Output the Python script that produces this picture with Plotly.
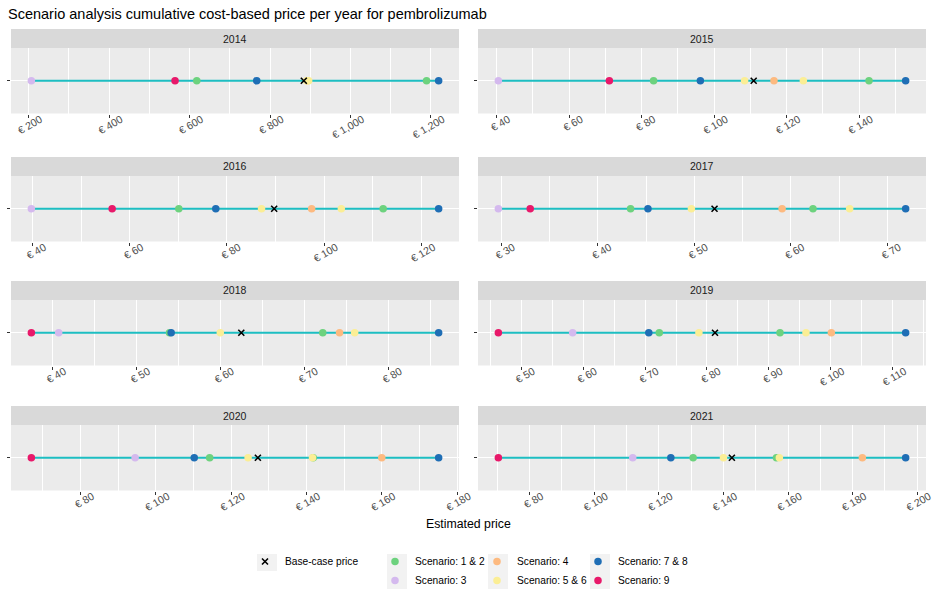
import plotly.graph_objects as go

# ---- data -------------------------------------------------------------
years = ["2014", "2015", "2016", "2017", "2018", "2019", "2020", "2021"]
tick_steps = [200, 20, 20, 10, 10, 10, 20, 20]

base_case = [884, 110.9, 89.7, 52.1, 62.5, 81.3, 127.1, 142.6]

scen_1 = [618, 83.3, 70.1, 43.4, 53.95, 72.3, 114.3, 130.6]
scen_2 = [1189, 142.7, 112.1, 62.3, 72.2, 91.8, 141.8, 156.4]
scen_3 = [207, 40.5, 39.8, 29.7, 40.75, 58.3, 94.5, 111.9]
scen_4 = [893, 116.5, 97.4, 59.1, 74.2, 100.1, 160.0, 183.0]
scen_5 = [891, 108.4, 87.1, 49.7, 60.0, 78.7, 124.5, 140.0]
scen_6 = [896, 124.6, 103.5, 66.1, 76.0, 96.0, 141.6, 157.3]
scen_7 = [767, 96.2, 77.7, 45.2, 54.15, 70.6, 110.2, 123.7]
scen_8 = [1219, 152.8, 123.5, 71.9, 86.0, 112.1, 175.1, 196.4]
scen_9 = [564, 71.1, 56.4, 33.0, 37.5, 46.3, 66.95, 70.3]

# scenario groups in drawing order: (label, colour, series, legend, rank)
groups = [
    ("Scenario: 1 & 2", "#6DD27E", [scen_1, scen_2], "legend2", 1),
    ("Scenario: 3", "#D4B9EE", [scen_3], "legend2", 2),
    ("Scenario: 4", "#FDBA80", [scen_4], "legend3", 1),
    ("Scenario: 5 & 6", "#FBEE95", [scen_5, scen_6], "legend3", 2),
    ("Scenario: 7 & 8", "#1F6EB5", [scen_7, scen_8], "legend4", 1),
    ("Scenario: 9", "#E8196A", [scen_9], "legend4", 2),
]

# ---- geometry helpers (pixel -> paper) -------------------------------
W, H = 934, 589
FONT = "Liberation Sans, Arial, Helvetica, sans-serif"


def fx(px):
    return px / W


def fy(py):
    return 1 - py / H


col_x = [(11, 459), (478, 926)]
row_top = [48, 176, 300, 425]
panel_h = 65.5
strip_h = 19

fig = go.Figure()
layout = {}
shapes = []
annotations = []

for i, yr in enumerate(years):
    r, c = divmod(i, 2)
    n = i + 1
    xref = "x" if n == 1 else f"x{n}"
    yref = "y" if n == 1 else f"y{n}"
    xname = "xaxis" if n == 1 else f"xaxis{n}"
    yname = "yaxis" if n == 1 else f"yaxis{n}"

    vals = [base_case[i]] + [s[i] for _, _, ss, _, _ in groups for s in ss]
    lo, hi = min(vals), max(vals)
    pad = 0.05 * (hi - lo)
    step = tick_steps[i]

    x0, x1 = col_x[c]
    top = row_top[r]
    bot = top + panel_h

    layout[xname] = dict(
        domain=[fx(x0), fx(x1)], range=[lo - pad, hi + pad], anchor=yref,
        automargin=False,
        tick0=0, dtick=step, tickprefix="€ ", tickformat=",",
        tickangle=-30, ticks="outside", ticklen=3, tickcolor="#333333",
        tickfont=dict(family=FONT, size=10.5, color="#4D4D4D"),
        ticklabelshift=12, ticklabelstandoff=-8, ticklabeloverflow="allow",
        showgrid=True, gridcolor="white", gridwidth=1.1,
        minor=dict(dtick=step / 2, showgrid=True, gridcolor="white", gridwidth=0.5),
        zeroline=False, showline=False, fixedrange=True,
    )
    layout[yname] = dict(
        domain=[fy(bot), fy(top)], range=[-1, 1], anchor=xref,
        automargin=False,
        tickvals=[0], ticktext=[""], ticks="outside", ticklen=3,
        tickcolor="#333333", showgrid=True, gridcolor="white", gridwidth=1.1,
        zeroline=False, showline=False, fixedrange=True,
    )

    # strip header with the year
    shapes.append(dict(type="rect", xref="paper", yref="paper",
                       x0=fx(x0), x1=fx(x1), y0=fy(top), y1=fy(top - strip_h),
                       fillcolor="#D9D9D9", line=dict(width=0), layer="below"))
    annotations.append(dict(text=yr, xref="paper", yref="paper",
                            x=fx((x0 + x1) / 2), y=fy(top - strip_h / 2),
                            xanchor="center", yanchor="middle", showarrow=False,
                            font=dict(family=FONT, size=10.5, color="#1A1A1A")))

    # range line from the lowest to the highest estimate
    fig.add_trace(go.Scatter(x=[lo, hi], y=[0, 0], mode="lines",
                             line=dict(color="#1DBEC2", width=1.8),
                             showlegend=False, hoverinfo="skip",
                             xaxis=xref, yaxis=yref))

    for label, color, series, leg, rank in groups:
        fig.add_trace(go.Scatter(
            x=[s[i] for s in series], y=[0] * len(series), mode="markers",
            marker=dict(color=color, size=7.5, line=dict(width=0)),
            name=label, legendgroup=label, showlegend=(i == 0),
            legend=leg, legendrank=rank, xaxis=xref, yaxis=yref))

    fig.add_trace(go.Scatter(
        x=[base_case[i]], y=[0], mode="markers",
        marker=dict(symbol="x-thin", size=6, color="black",
                    line=dict(color="black", width=1.6)),
        name="Base-case price", legendgroup="base", showlegend=(i == 0),
        legend="legend", xaxis=xref, yaxis=yref))

# legend key backgrounds
key_boxes = [(257, 277, 554, 571)]
for kx in (387, 488, 590):
    key_boxes.append((kx, kx + 20, 554, 571))
    key_boxes.append((kx, kx + 20, 571, 589))
for bx0, bx1, by0, by1 in key_boxes:
    shapes.append(dict(type="rect", xref="paper", yref="paper",
                       x0=fx(bx0), x1=fx(bx1), y0=fy(by1), y1=fy(by0),
                       fillcolor="#F2F2F2", line=dict(width=0), layer="below"))

annotations.append(dict(text="Estimated price", xref="paper", yref="paper",
                        x=fx(468), y=fy(524), xanchor="center", yanchor="middle",
                        showarrow=False,
                        font=dict(family=FONT, size=12.3, color="black")))

legend_common = dict(orientation="v", bgcolor="rgba(0,0,0,0)", borderwidth=0,
                     font=dict(family=FONT, size=10.2, color="black"),
                     xref="container", yref="container",
                     xanchor="left", yanchor="top", itemwidth=30,
                     tracegroupgap=0, traceorder="normal")

fig.update_layout(
    width=W, height=H,
    margin=dict(l=0, r=0, t=0, b=0, autoexpand=False),
    paper_bgcolor="white", plot_bgcolor="#EBEBEB",
    font=dict(family=FONT),
    title=dict(text="Scenario analysis cumulative cost-based price per year for pembrolizumab",
               xref="paper", yref="paper", x=fx(8), y=fy(14),
               xanchor="left", yanchor="middle",
               font=dict(family=FONT, size=14.5, color="black")),
    shapes=shapes, annotations=annotations,
    legend=dict(x=fx(245), y=fy(547), **legend_common),
    legend2=dict(x=fx(375), y=fy(547), **legend_common),
    legend3=dict(x=fx(477), y=fy(547), **legend_common),
    legend4=dict(x=fx(578), y=fy(547), **legend_common),
    **layout,
)

fig.write_html("out.html")
